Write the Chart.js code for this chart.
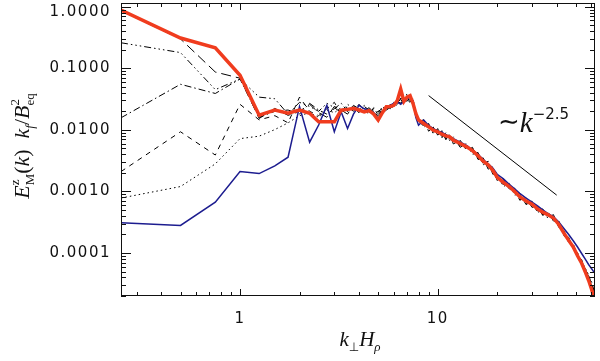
<!DOCTYPE html>
<html>
<head>
<meta charset="utf-8">
<script src="https://cdn.jsdelivr.net/npm/chart.js@4.4.1/dist/chart.umd.min.js"></script>
<style>
html, body { margin: 0; padding: 0; background: #fff; }
#wrap { width: 600px; height: 361px; }
</style>
</head>
<body>
<div id="wrap"><canvas id="spec" width="600" height="361"></canvas></div>
<script>
// wavenumbers k_perp H_rho (shared by all curves)
const kPerp = [0.25, 0.5, 0.75, 1, 1.25, 1.5, 1.75, 2, 2.25, 2.5, 2.75, 3, 3.25, 3.5, 3.75, 4, 4.25, 4.5, 4.75, 5,
  5.25, 5.5, 5.75, 6, 6.25, 6.5, 6.75, 7, 7.25, 7.5, 7.75, 8, 8.5, 9, 9.5, 10, 10.5, 11, 11.5, 12,
  13, 14, 15, 16, 17, 18, 19, 20, 21.5, 23, 24.5, 26, 28, 30, 32, 34, 36, 38.5, 41, 43.5,
  46, 48.5, 51, 53.5, 56, 58, 60, 62];

// thick red curve
const eRed = [0.88, 0.31, 0.215, 0.077, 0.0173, 0.0209, 0.0187, 0.0209, 0.0186, 0.0135, 0.0135, 0.0135, 0.0209, 0.0215, 0.0223, 0.021, 0.0196, 0.0205, 0.018, 0.0144,
  0.019, 0.0237, 0.024, 0.025, 0.03, 0.046, 0.029, 0.034, 0.036, 0.027, 0.0185, 0.0145, 0.0127, 0.0112, 0.0099, 0.0093, 0.0085, 0.008, 0.0077, 0.0068,
  0.006, 0.0053, 0.0046, 0.0038, 0.0031, 0.0027, 0.0022, 0.0017, 0.0014, 0.0012, 0.001, 0.00082, 0.0007, 0.00062, 0.00052, 0.00046, 0.00042, 0.00037, 0.00029, 0.00021,
  0.00016, 0.000125, 0.00009, 0.000068, 0.000048, 0.000036, 0.000026, 0.000018];

// blue curve
const eBlue = [0.00031, 0.00028, 0.00067, 0.0021, 0.00195, 0.0026, 0.0036, 0.024, 0.0063, 0.012, 0.025, 0.0093, 0.0196, 0.0105, 0.018, 0.025, 0.022, 0.021, 0.019, 0.0153,
  0.019, 0.023, 0.025, 0.027, 0.0285, 0.026, 0.029, 0.032, 0.034, 0.03, 0.016, 0.0119, 0.0144, 0.0118, 0.0105, 0.0096, 0.0092, 0.0083, 0.0078, 0.0072,
  0.0063, 0.0056, 0.0047, 0.004, 0.0033, 0.0028, 0.0024, 0.0019, 0.0016, 0.0013, 0.0011, 0.00093, 0.00078, 0.00067, 0.00058, 0.0005, 0.00044, 0.00039, 0.00032, 0.00025,
  0.0002, 0.000158, 0.000125, 0.000098, 0.000078, 0.000065, 0.000056, 0.000048];

// black long-dash curve
const eLongDash = [0.86, 0.30, 0.087, 0.069, 0.0153, 0.0223, 0.0172, 0.020, 0.026, 0.019, 0.016, 0.024, 0.021, 0.018, 0.025, 0.022, 0.020, 0.023, 0.019, 0.017,
  0.021, 0.025, 0.022, 0.026, 0.028, 0.031, 0.027, 0.033, 0.030, 0.026, 0.017, 0.0135, 0.0146, 0.0095, 0.0111, 0.0082, 0.0097, 0.0069, 0.0087, 0.0059,
  0.0068, 0.0046, 0.0052, 0.0033, 0.0035, 0.0023, 0.0025, 0.0015, 0.0016, 0.00105, 0.00113, 0.00072, 0.00079, 0.00055, 0.00059, 0.00041, 0.00047, 0.00033, 0.00033, 0.00019,
  0.00018, 0.000118, 0.0001, 0.000068, 0.000056, 0.00004, 0.000032, 0.000024];

// black dash-dot curve
const eDashDot = [0.0157, 0.055, 0.039, 0.067, 0.016, 0.020, 0.021, 0.018, 0.027, 0.021, 0.018, 0.022, 0.027, 0.020, 0.023, 0.019, 0.024, 0.021, 0.018, 0.020,
  0.022, 0.020, 0.026, 0.024, 0.029, 0.027, 0.030, 0.031, 0.028, 0.032, 0.019, 0.015, 0.011, 0.0127, 0.0086, 0.0105, 0.0074, 0.009, 0.0067, 0.0077,
  0.0052, 0.006, 0.004, 0.0043, 0.0027, 0.0031, 0.0019, 0.0019, 0.0012, 0.00135, 0.00087, 0.00093, 0.00061, 0.0007, 0.00045, 0.00052, 0.00037, 0.00042, 0.00026, 0.00024,
  0.000145, 0.000142, 0.000085, 0.000078, 0.000048, 0.000042, 0.00003, 0.000025];

// black dash-dot-dot-dot curve
const eDashDots = [0.26, 0.18, 0.045, 0.067, 0.034, 0.032, 0.018, 0.028, 0.024, 0.020, 0.027, 0.023, 0.019, 0.026, 0.022, 0.021, 0.025, 0.019, 0.022, 0.018,
  0.024, 0.021, 0.023, 0.028, 0.026, 0.033, 0.029, 0.032, 0.035, 0.028, 0.02, 0.0138, 0.0118, 0.0121, 0.0091, 0.01, 0.0078, 0.0086, 0.0071, 0.0073,
  0.0055, 0.0057, 0.0042, 0.0041, 0.0028, 0.0029, 0.002, 0.0018, 0.0013, 0.0013, 0.00092, 0.00088, 0.00064, 0.00067, 0.00048, 0.0005, 0.00039, 0.0004, 0.00027, 0.00023,
  0.00015, 0.000135, 0.000088, 0.000076, 0.000053, 0.000043, 0.000032, 0.000026];

// black short-dash curve
const eDashed = [0.0021, 0.0093, 0.0039, 0.026, 0.0145, 0.017, 0.013, 0.034, 0.020, 0.017, 0.022, 0.028, 0.018, 0.024, 0.020, 0.026, 0.021, 0.018, 0.023, 0.02,
  0.019, 0.024, 0.021, 0.025, 0.029, 0.027, 0.032, 0.029, 0.034, 0.03, 0.018, 0.0142, 0.0135, 0.0101, 0.0108, 0.0084, 0.0093, 0.0072, 0.0084, 0.0061,
  0.0066, 0.0048, 0.005, 0.0034, 0.0034, 0.0024, 0.0024, 0.0015, 0.0015, 0.0011, 0.0011, 0.00074, 0.00077, 0.00056, 0.00057, 0.00041, 0.00046, 0.00033, 0.00032, 0.00019,
  0.000175, 0.000115, 0.0001, 0.000066, 0.000054, 0.00004, 0.000031, 0.000023];

// black dotted curve
const eDotted = [0.00078, 0.0012, 0.0028, 0.0072, 0.0079, 0.0101, 0.013, 0.017, 0.019, 0.016, 0.021, 0.019, 0.023, 0.02, 0.024, 0.022, 0.019, 0.022, 0.02, 0.018,
  0.021, 0.023, 0.024, 0.026, 0.025, 0.029, 0.028, 0.039, 0.031, 0.027, 0.019, 0.0148, 0.0119, 0.0118, 0.0092, 0.0099, 0.0079, 0.0085, 0.0072, 0.0072,
  0.0056, 0.0056, 0.0043, 0.004, 0.0029, 0.0028, 0.0021, 0.0018, 0.00132, 0.00126, 0.00094, 0.00086, 0.00066, 0.00065, 0.00049, 0.00048, 0.0004, 0.00039, 0.00028, 0.00022,
  0.000155, 0.00013, 0.000095, 0.000074, 0.000055, 0.000044, 0.000034, 0.000028];

// k^-2.5 guide line end points
const kGuide = [9, 40];
const eGuide = [0.036, 0.00087];

// tick labels
const xTickValues = [1, 10];
const xTickLabels = ['1', '10'];
const yTickValues = [1, 0.1, 0.01, 0.001, 0.0001];
const yTickLabels = ['1.0000', '0.1000', '0.0100', '0.0010', '0.0001'];

function toPoints(ks, vals) {
    return ks.map((k, i) => ({ x: k, y: vals[i] }));
}

function curve(label, ks, vals, color, width, dash) {
    return {
        label: label,
        data: toPoints(ks, vals),
        borderColor: color,
        borderWidth: width,
        borderDash: dash,
        showLine: true,
        pointRadius: 0,
        fill: false,
        tension: 0
    };
}

// text with sub/superscripts, piece by piece
function drawRuns(ctx, runs, x, y) {
    let held = 0;
    for (const r of runs) {
        ctx.font = r.f;
        ctx.fillText(r.t, x, y + (r.dy || 0));
        const w = ctx.measureText(r.t).width;
        if (r.stay) { held = w; continue; }
        x += Math.max(w, held);
        held = 0;
    }
    return x;
}
function runsWidth(ctx, runs) {
    let x = 0, held = 0;
    for (const r of runs) {
        ctx.font = r.f;
        const w = ctx.measureText(r.t).width;
        if (r.stay) { held = w; continue; }
        x += Math.max(w, held);
        held = 0;
    }
    return x;
}

const SERIF = '"Liberation Serif", "DejaVu Serif", serif';
const SANS = '"DejaVu Sans", sans-serif';

// axes box, inward ticks, labels and titles
const framePlugin = {
    id: 'frame',
    afterDatasetsDraw(chart) {
        const { ctx, chartArea: a, scales: { x, y } } = chart;
        ctx.save();
        ctx.strokeStyle = '#111';
        ctx.lineWidth = 1;
        ctx.strokeRect(a.left + 0.5, a.top + 0.5, a.right - a.left - 1, a.bottom - a.top - 1);

        ctx.beginPath();
        for (let d = -1; d <= 2; d++) {
            for (let m = 1; m < 10; m++) {
                const v = m * Math.pow(10, d);
                if (v < x.min || v > x.max) continue;
                const px = Math.round(x.getPixelForValue(v)) + 0.5;
                const len = m === 1 ? 7 : 4;
                ctx.moveTo(px, a.bottom); ctx.lineTo(px, a.bottom - len);
                ctx.moveTo(px, a.top); ctx.lineTo(px, a.top + len);
            }
        }
        for (let d = -5; d <= 0; d++) {
            for (let m = 1; m < 10; m++) {
                const v = m * Math.pow(10, d);
                if (v < y.min || v > y.max) continue;
                const py = Math.round(y.getPixelForValue(v)) + 0.5;
                const len = m === 1 ? 10 : 5;
                ctx.moveTo(a.left, py); ctx.lineTo(a.left + len, py);
                ctx.moveTo(a.right, py); ctx.lineTo(a.right - len, py);
            }
        }
        ctx.stroke();

        // tick labels
        ctx.fillStyle = '#111';
        ctx.font = '15px ' + SANS;
        ctx.letterSpacing = '1.5px';
        ctx.textBaseline = 'middle';
        ctx.textAlign = 'center';
        xTickValues.forEach((v, i) => {
            ctx.fillText(xTickLabels[i], x.getPixelForValue(v), 319);
        });
        ctx.textAlign = 'right';
        yTickValues.forEach((v, i) => {
            const py = Math.max(y.getPixelForValue(v), 12);
            ctx.fillText(yTickLabels[i], 111, py);
        });
        ctx.letterSpacing = '0px';

        // x title: k_perp H_rho
        ctx.textAlign = 'left';
        ctx.textBaseline = 'alphabetic';
        const it = 'italic 21px ' + SERIF;
        const sub = 'italic 13px ' + SERIF;
        const xRuns = [
            { t: 'k', f: it }, { t: '\u22A5', f: '12px ' + SANS, dy: 5 },
            { t: 'H', f: it }, { t: '\u03C1', f: sub, dy: 5 }
        ];
        const xw = runsWidth(ctx, xRuns);
        drawRuns(ctx, xRuns, 360 - xw / 2, 346);

        // y title: E^z_M(k) k_f / B^2_eq
        const yf = 'italic 22px ' + SERIF;
        const rm = '22px ' + SERIF;
        const ys = '13px ' + SERIF;
        const yRuns = [
            { t: 'E', f: yf }, { t: 'z', f: ys, dy: -10, stay: true }, { t: 'M', f: ys, dy: 5 },
            { t: '(', f: rm }, { t: 'k', f: yf }, { t: ')', f: rm }, { t: '  ', f: rm },
            { t: 'k', f: yf }, { t: 'f', f: 'italic 13px ' + SERIF, dy: 5 },
            { t: '/', f: rm }, { t: 'B', f: yf },
            { t: '2', f: ys, dy: -10, stay: true }, { t: 'eq', f: ys, dy: 5 }
        ];
        const yw = runsWidth(ctx, yRuns);
        ctx.save();
        ctx.translate(29, 146 + yw / 2);
        ctx.rotate(-Math.PI / 2);
        drawRuns(ctx, yRuns, 0, 0);
        ctx.restore();

        // slope annotation
        const aRuns = [
            { t: '\u223C', f: '26px ' + SANS, dy: -2 },
            { t: 'k', f: 'italic 29px ' + SERIF },
            { t: '\u22122.5', f: '15px ' + SANS, dy: -13 }
        ];
        drawRuns(ctx, aRuns, 498, 132);
        ctx.restore();
    }
};

const ctx = document.getElementById('spec').getContext('2d');
new Chart(ctx, {
    type: 'scatter',
    data: {
        datasets: [
            curve('red', kPerp, eRed, '#f03c1e', 3.5, []),
            curve('blue', kPerp, eBlue, '#1c1c8f', 1.5, []),
            curve('long dash', kPerp, eLongDash, '#000', 1, [10, 5]),
            curve('dash dot', kPerp, eDashDot, '#000', 1, [7, 3, 1.5, 3]),
            curve('dash dot dot', kPerp, eDashDots, '#000', 1, [7, 3, 1.5, 3, 1.5, 3, 1.5, 3]),
            curve('dashed', kPerp, eDashed, '#000', 1, [5, 5]),
            curve('dotted', kPerp, eDotted, '#000', 1, [1.5, 3]),
            curve('k^-2.5', kGuide, eGuide, '#000', 1, [])
        ]
    },
    options: {
        responsive: false,
        animation: false,
        devicePixelRatio: 1,
        layout: { padding: { left: 121, right: 5, top: 3, bottom: 65 } },
        plugins: { legend: { display: false }, tooltip: { enabled: false } },
        scales: {
            x: { type: 'logarithmic', min: 0.25, max: 62.5, display: false },
            y: { type: 'logarithmic', min: 2e-5, max: 1.15, display: false }
        }
    },
    plugins: [framePlugin]
});
</script>
</body>
</html>
